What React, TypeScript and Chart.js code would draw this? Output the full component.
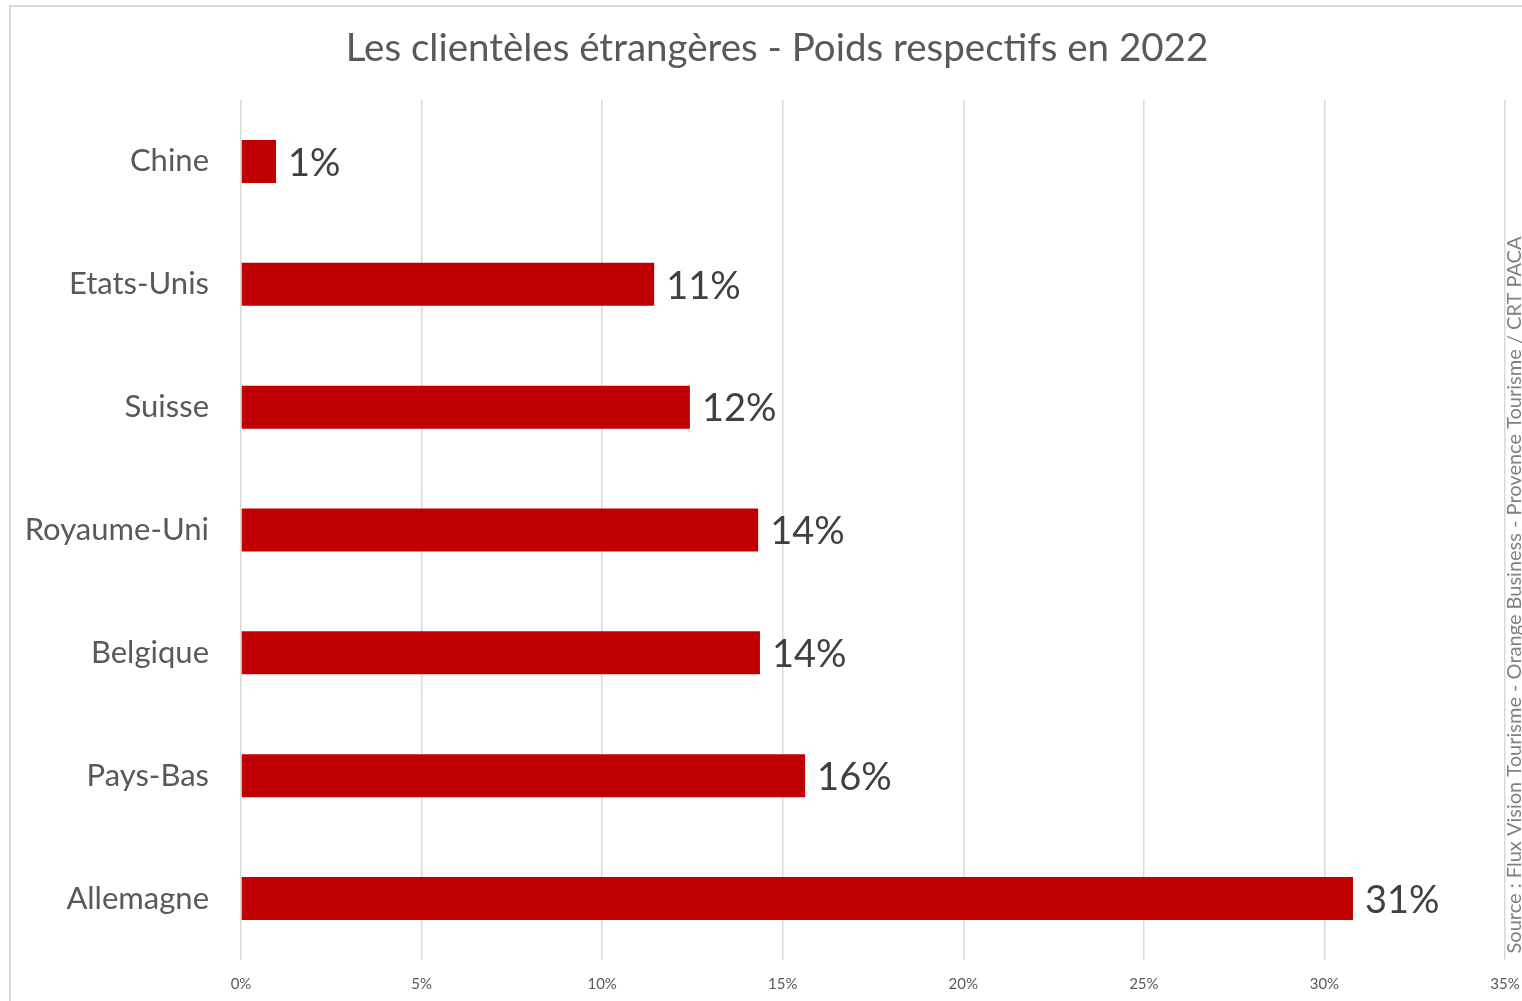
import React, { useEffect, useRef } from "react";
import { Chart, registerables } from "chart.js";

Chart.register(...registerables);

const categories = ["Chine", "Etats-Unis", "Suisse", "Royaume-Uni", "Belgique", "Pays-Bas", "Allemagne"];
const shares = [0.97, 11.44, 12.43, 14.32, 14.37, 15.62, 30.79];
const xTicks = [0, 5, 10, 15, 20, 25, 30, 35];
const titleText = "Les clientèles étrangères - Poids respectifs en 2022";
const sourceText = "Source : Flux Vision Tourisme - Orange Business - Provence Tourisme / CRT PACA";

const FONT = "Lato, 'Open Sans', sans-serif";

const framePlugin = {
  id: "frame",
  beforeDraw(chart: any) {
    const ctx = chart.ctx;
    ctx.save();
    ctx.fillStyle = "#ffffff";
    ctx.fillRect(0, 0, chart.width, chart.height);
    ctx.strokeStyle = "#d9d9d9";
    ctx.lineWidth = 2;
    ctx.strokeRect(10, 6, chart.width + 20, chart.height + 20);
    ctx.restore();
  },
};

const titlePlugin = {
  id: "customTitle",
  afterDraw(chart: any) {
    const ctx = chart.ctx;
    ctx.save();
    ctx.font = `38.5px ${FONT}`;
    ctx.fillStyle = "#595959";
    ctx.textAlign = "center";
    ctx.textBaseline = "middle";
    ctx.fillText(titleText, 777, 49);
    ctx.restore();
  },
};

const labelPlugin = {
  id: "barLabels",
  afterDatasetsDraw(chart: any) {
    const ctx = chart.ctx;
    const meta = chart.getDatasetMeta(0);
    ctx.save();
    ctx.font = `38px ${FONT}`;
    ctx.fillStyle = "#404040";
    ctx.textAlign = "left";
    ctx.textBaseline = "middle";
    meta.data.forEach((el: any, i: number) => {
      const v = chart.data.datasets[0].data[i] as number;
      ctx.fillText(`${Math.round(v)}%`, el.x + 12, el.y + 2);
    });
    ctx.restore();
  },
};

const sourcePlugin = {
  id: "source",
  afterDraw(chart: any) {
    const ctx = chart.ctx;
    ctx.save();
    ctx.translate(1515, 595);
    ctx.rotate(-Math.PI / 2);
    ctx.font = `20px ${FONT}`;
    ctx.fillStyle = "#808080";
    ctx.textAlign = "center";
    ctx.textBaseline = "middle";
    ctx.fillText(sourceText, 0, 0);
    ctx.restore();
  },
};

export default function App() {
  const ref = useRef<HTMLCanvasElement | null>(null);
  useEffect(() => {
    if (!ref.current) return;
    const chart = new Chart(ref.current, {
      type: "bar",
      data: {
        labels: categories,
        datasets: [
          {
            data: shares,
            backgroundColor: "#c00000",
            borderWidth: 0,
            categoryPercentage: 1,
            barPercentage: 0.35,
          },
        ],
      },
      options: {
        indexAxis: "y",
        animation: false,
        responsive: false,
        maintainAspectRatio: false,
        layout: { padding: { left: 0, right: 17, top: 100, bottom: 0 } },
        plugins: {
          legend: { display: false },
          tooltip: { enabled: false },
          title: { display: false },
        },
        scales: {
          x: {
            min: 0,
            max: 35,
            afterBuildTicks(scale: any) {
              scale.ticks = xTicks.map((v) => ({ value: v }));
            },
            afterFit(scale: any) {
              scale.height = 41;
              scale.paddingLeft = 0;
              scale.paddingRight = 0;
            },
            ticks: {
              color: "#595959",
              font: { family: FONT, size: 15 },
              padding: 15,
              callback: (v: any) => `${v}%`,
            },
            grid: { color: "#d9d9d9", lineWidth: 1.5, drawTicks: false },
            border: { display: false },
          },
          y: {
            afterFit(scale: any) {
              scale.width = 241;
              scale.paddingTop = 0;
              scale.paddingBottom = 0;
            },
            ticks: {
              color: "#595959",
              font: { family: FONT, size: 31 },
              padding: 32,
            },
            grid: { display: false, drawTicks: false },
            border: { display: false },
          },
        },
      },
      plugins: [framePlugin, titlePlugin, labelPlugin, sourcePlugin],
    });
    return () => chart.destroy();
  }, []);
  return (
    <div style={{ position: "fixed", left: 0, top: 0, width: 1522, height: 1001 }}>
      <canvas ref={ref} width={1522} height={1001} style={{ width: 1522, height: 1001 }} />
    </div>
  );
}
